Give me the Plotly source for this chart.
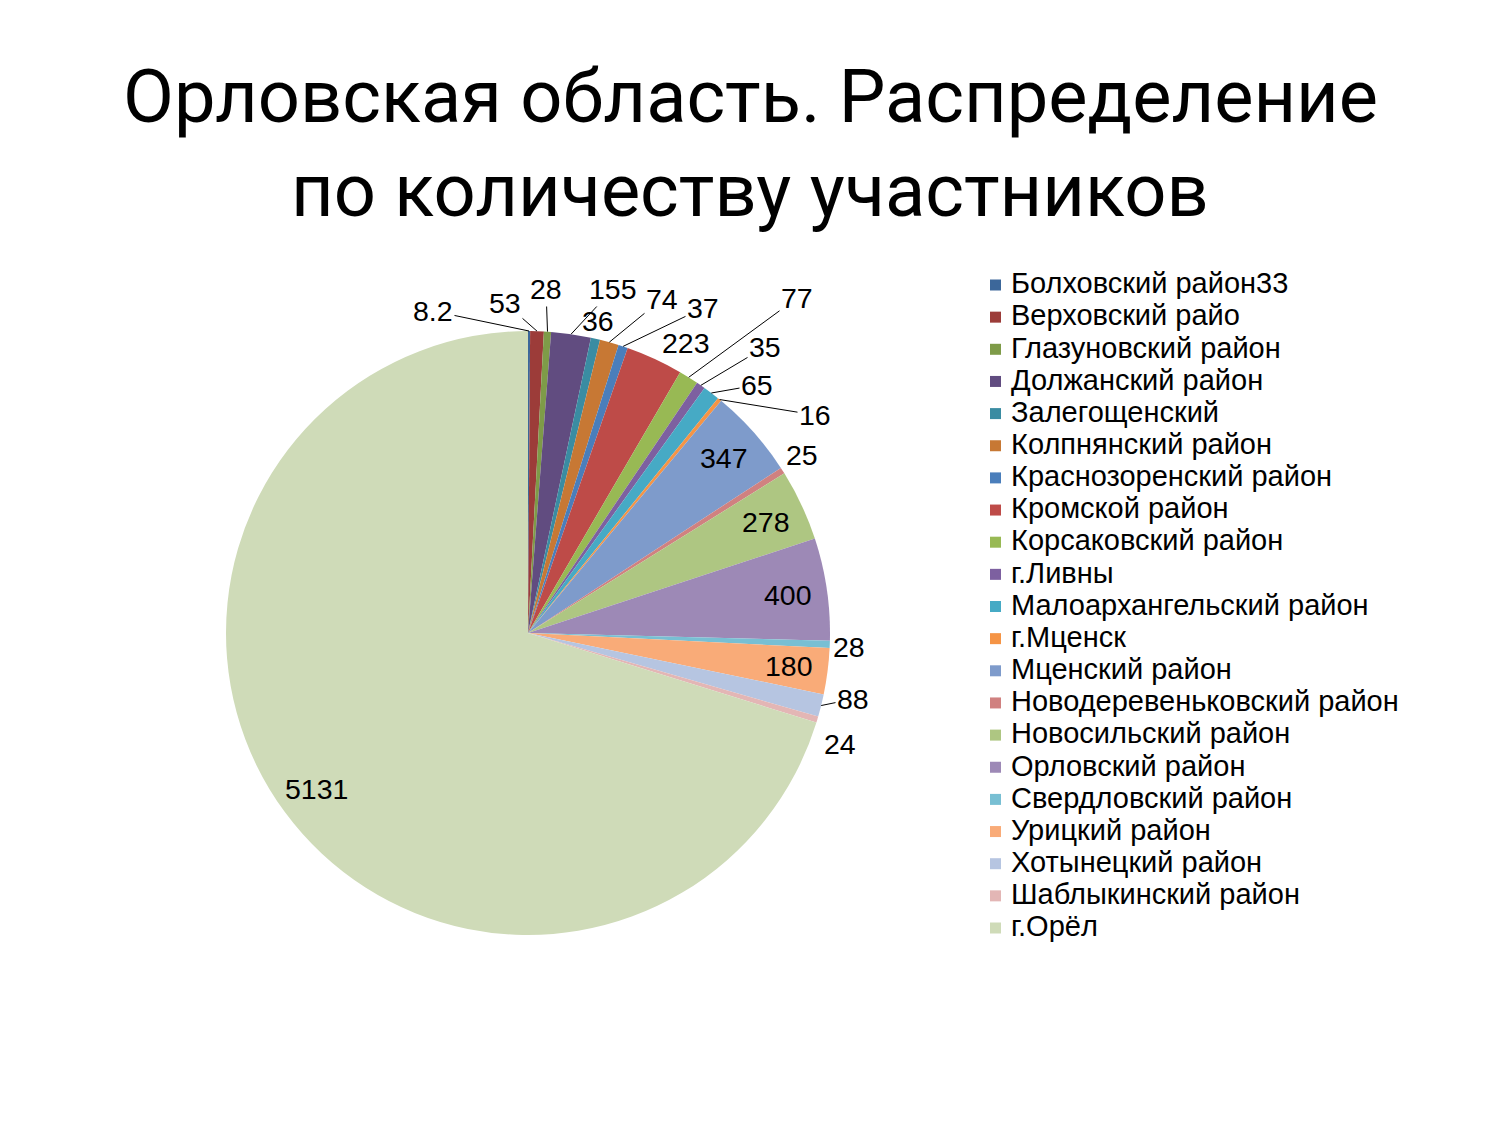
import math
import plotly.graph_objects as go

# ---- data ----
districts = [
    "Болховский район33", "Верховский райо", "Глазуновский район", "Должанский район",
    "Залегощенский", "Колпнянский район", "Краснозоренский район", "Кромской район",
    "Корсаковский район", "г.Ливны", "Малоархангельский район", "г.Мценск",
    "Мценский район", "Новодеревеньковский район", "Новосильский район",
    "Орловский район", "Свердловский район", "Урицкий район", "Хотынецкий район",
    "Шаблыкинский район", "г.Орёл",
]
participants = [8.2, 53, 28, 155, 36, 74, 37, 223, 77, 35, 65, 16,
                347, 25, 278, 400, 28, 180, 88, 24, 5131]
value_labels = ["8.2", "53", "28", "155", "36", "74", "37", "223", "77", "35", "65", "16",
                "347", "25", "278", "400", "28", "180", "88", "24", "5131"]

# ---- styles ----
colors = [
    "#3C679A", "#9C3C39", "#7E9B48", "#614C80", "#3A8CA2", "#C77834",
    "#4A7EBB", "#BE4B48", "#98B954", "#7D60A0", "#46AAC5", "#F59445",
    "#7E9BCB", "#D08180", "#AEC682", "#9D89B6", "#78BFD3", "#F9AB78",
    "#B6C5E1", "#E3B6B5", "#CFDBB8",
]

W, H = 1500, 1125
CX, CY, R = 528, 633, 302          # pie placement in pixels
FONT = "Liberation Sans, Arial, sans-serif"
FS = 28.5
LEG_FS = 29

# outside label placement (text centre in px) and whether a leader line is drawn
outside_pos = {
    0: (433, 311, True), 1: (505, 303, True), 2: (546, 289, True), 3: (613, 289, True),
    4: (598, 321, False), 5: (662, 299, True), 6: (703, 308, True), 7: (686, 343, False),
    8: (797, 298, True), 9: (765, 347, True), 10: (757, 385, True), 11: (815, 415, True),
    13: (802, 455, False), 16: (849, 647, False), 18: (853, 699, True), 19: (840, 744, False),
}
INSIDE_RF = 0.87

fig = go.Figure()

fig.add_trace(go.Pie(
    labels=districts, values=participants, sort=False, direction="clockwise",
    rotation=0, textinfo="none", hoverinfo="label+value",
    marker=dict(colors=colors, line=dict(width=0)),
    domain=dict(x=[(CX - R) / W, (CX + R) / W], y=[1 - (CY + R) / H, 1 - (CY - R) / H]),
    showlegend=False,
))

# legend built from the data lists
rows = [285 + 32.15 * i for i in range(len(districts))]
fig.add_trace(go.Scatter(
    x=[995.5] * len(districts), y=rows, mode="markers",
    marker=dict(symbol="square", size=11, color=colors, line=dict(width=0)),
    showlegend=False, hoverinfo="skip",
))
fig.add_trace(go.Scatter(
    x=[1011] * len(districts), y=[r + 1 for r in rows], mode="text", text=districts,
    textposition="middle right", textfont=dict(family=FONT, size=LEG_FS, color="black"),
    showlegend=False, hoverinfo="skip",
))

# data labels computed from slice angles
total = sum(participants)
annotations = []
cum = 0.0
for i, v in enumerate(participants):
    mid = (cum + v / 2) / total * 2 * math.pi
    cum += v
    sx, sy = math.sin(mid), -math.cos(mid)
    if i in outside_pos:
        tx, ty, line = outside_pos[i]
        ex, ey = CX + R * sx, CY + R * sy
        if line:
            annotations.append(dict(
                x=ex, y=ey, xref="x", yref="y", ax=tx, ay=ty, axref="x", ayref="y",
                text=value_labels[i], showarrow=True, arrowhead=0, arrowwidth=1,
                arrowcolor="black", standoff=0, font=dict(family=FONT, size=FS, color="black"),
            ))
        else:
            annotations.append(dict(
                x=tx, y=ty, xref="x", yref="y", text=value_labels[i], showarrow=False,
                font=dict(family=FONT, size=FS, color="black"),
            ))
    else:
        annotations.append(dict(
            x=CX + INSIDE_RF * R * sx, y=CY + INSIDE_RF * R * sy, xref="x", yref="y",
            text=value_labels[i], showarrow=False,
            font=dict(family=FONT, size=FS, color="black"),
        ))

TFONT = "Roboto, Open Sans, sans-serif"
TFS = 74
annotations.append(dict(x=750, y=96, xref="x", yref="y", xanchor="center", yanchor="middle",
                        text="Орловская область. Распределение", showarrow=False,
                        font=dict(family=TFONT, size=TFS, color="black")))
annotations.append(dict(x=750, y=190, xref="x", yref="y", xanchor="center", yanchor="middle",
                        text="по количеству участников", showarrow=False,
                        font=dict(family=TFONT, size=TFS, color="black")))

fig.update_layout(
    width=W, height=H, margin=dict(l=0, r=0, t=0, b=0),
    paper_bgcolor="white", plot_bgcolor="rgba(0,0,0,0)",
    xaxis=dict(range=[0, W], visible=False, domain=[0, 1], fixedrange=True),
    yaxis=dict(range=[H, 0], visible=False, domain=[0, 1], fixedrange=True),
    annotations=annotations, showlegend=False,
)

fig.write_html("out.html", config={"displayModeBar": False},
               post_script="document.body.style.margin='0px';")
